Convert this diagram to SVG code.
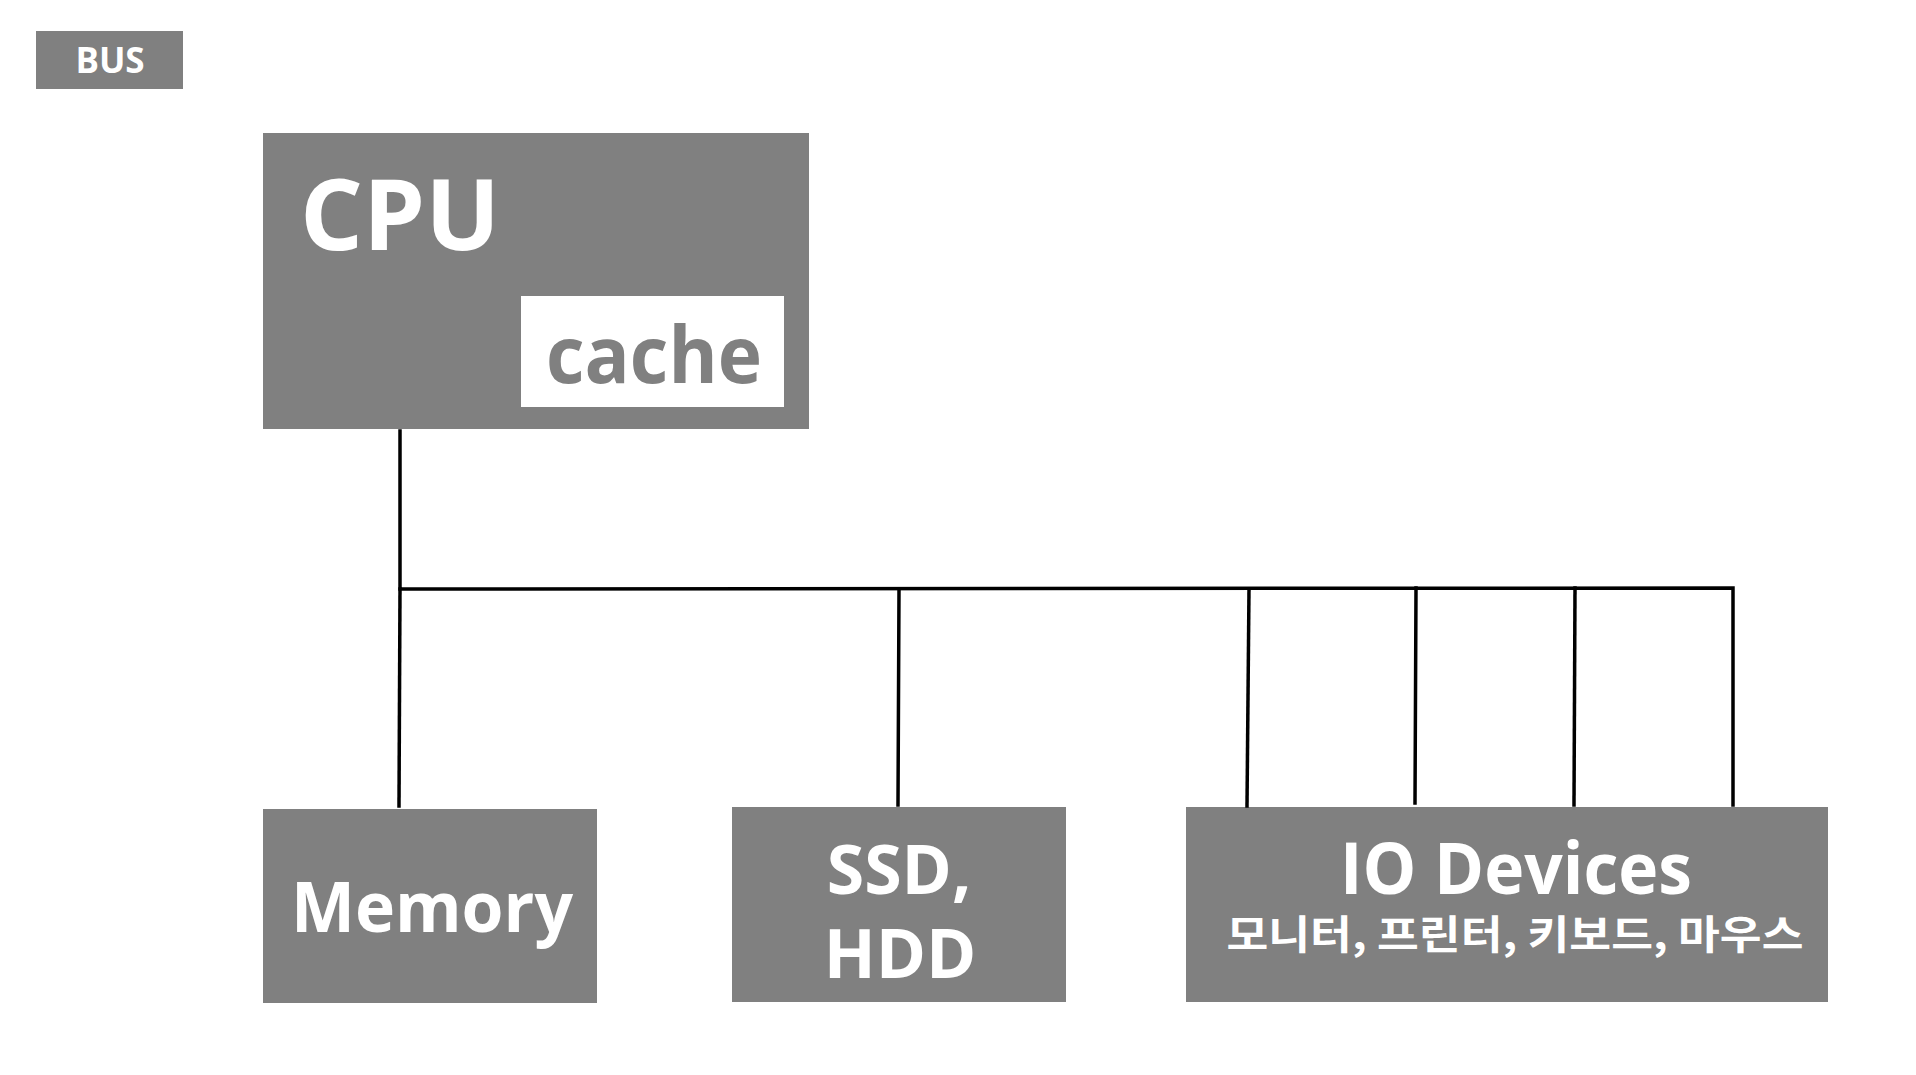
<svg xmlns="http://www.w3.org/2000/svg" width="1916" height="1075" viewBox="0 0 1916 1075">
<style>
.box{fill:#808080}
.t{font-family:"Open Sans","Noto Sans CJK KR",sans-serif;font-weight:bold;fill:#ffffff}
.k{font-family:"Noto Sans CJK KR",sans-serif;font-weight:bold;fill:#ffffff}
.c{stroke:#000;stroke-width:3.5;fill:none;stroke-linecap:square}
</style>
<rect width="1916" height="1075" fill="#ffffff"/>
<g id="bus-label">
<rect class="box" x="36" y="31" width="147" height="58"/>
<text class="t" x="110" y="73" font-size="35" text-anchor="middle">BUS</text>
</g>
<g id="cpu">
<rect class="box" x="263" y="133" width="546" height="296"/>
<text class="t" x="300" y="250" font-size="99">CPU</text>
</g>
<g id="cache">
<rect x="521" y="296" width="263" height="111" fill="#ffffff"/>
<text class="t" x="654" y="383" font-size="78" text-anchor="middle" textLength="216" lengthAdjust="spacingAndGlyphs" style="fill:#808080">cache</text>
</g>
<g id="memory">
<rect class="box" x="263" y="809" width="334" height="194"/>
<text class="t" x="432" y="932" font-size="69" text-anchor="middle" textLength="282" lengthAdjust="spacingAndGlyphs">Memory</text>
</g>
<g id="storage">
<rect class="box" x="732" y="807" width="334" height="195"/>
<text class="t" x="899" y="894" font-size="68" text-anchor="middle">SSD,</text>
<text class="t" x="900" y="978" font-size="68" text-anchor="middle">HDD</text>
</g>
<g id="io">
<rect class="box" x="1186" y="807" width="642" height="195"/>
<text class="t" x="1516" y="894" font-size="71" text-anchor="middle" textLength="352" lengthAdjust="spacingAndGlyphs">IO Devices</text>
<text class="k" x="1515" y="949" font-size="40" text-anchor="middle" textLength="577" lengthAdjust="spacingAndGlyphs">모니터, 프린터, 키보드, 마우스</text>
</g>
<g id="connectors">
<polyline class="c" points="400,431 400,589 1733,588 1733,805"/>
<line class="c" x1="400" y1="589" x2="399" y2="806"/>
<line class="c" x1="899" y1="589" x2="898" y2="805"/>
<line class="c" x1="1249" y1="589" x2="1247" y2="806"/>
<line class="c" x1="1416" y1="588" x2="1415" y2="803"/>
<line class="c" x1="1575" y1="588" x2="1574" y2="805"/>
</g>
</svg>
